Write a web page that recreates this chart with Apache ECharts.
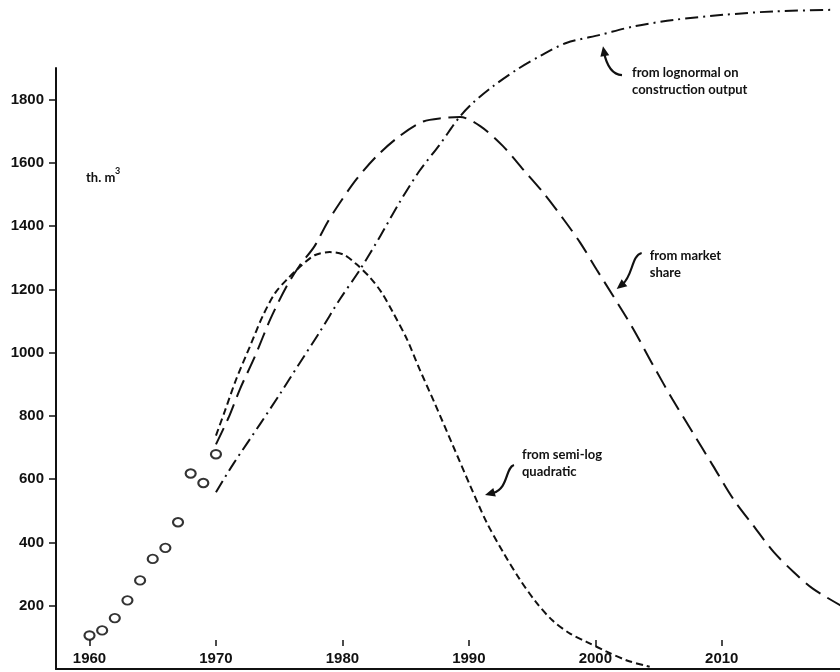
<!DOCTYPE html>
<html><head><meta charset="utf-8">
<script src="https://cdn.jsdelivr.net/npm/echarts/dist/echarts.min.js"></script>
<style>html,body{margin:0;padding:0;background:#fff}#c{width:840px;height:672px}</style>
</head><body><div id="c"></div>
<script>
// ---- data ----
const xTicks = [1960, 1970, 1980, 1990, 2000, 2010];
const yTicks = [200, 400, 600, 800, 1000, 1200, 1400, 1600, 1800];

const observedYears  = [1960, 1961, 1962, 1963, 1964, 1965, 1966, 1967, 1968, 1969, 1970];
const observedValues = [106, 122, 161, 217, 280, 348, 383, 464, 618, 588, 679];

const semiLogYears  = [1970.0, 1970.7, 1971.6, 1972.7, 1973.7, 1974.7, 1975.7, 1976.6, 1977.8, 1979.0, 1980.1, 1981.1, 1982.2, 1983.1, 1984.0, 1985.1, 1986.1, 1987.3, 1988.7, 1990.1, 1991.4, 1992.7, 1994.0, 1995.3, 1996.6, 1998.0, 1999.3, 2000.9, 2002.5, 2004.3];
const semiLogValues = [738, 815, 916, 1021, 1116, 1190, 1235, 1270, 1308, 1318, 1310, 1280, 1237, 1190, 1127, 1043, 948, 840, 710, 580, 464, 370, 285, 212, 154, 112, 86, 55, 27, 7];

const marketYears  = [1970.0, 1971.0, 1971.9, 1973.1, 1974.3, 1975.6, 1976.6, 1977.8, 1978.8, 1979.8, 1981.1, 1982.7, 1984.5, 1986.4, 1988.0, 1989.3, 1990.9, 1992.7, 1994.3, 1995.9, 1997.5, 1998.8, 2000.1, 2001.4, 2003.0, 2004.6, 2006.1, 2007.7, 2009.3, 2010.9, 2012.5, 2014.1, 2015.7, 2017.2, 2019.4];
const marketValues = [710, 795, 885, 990, 1106, 1211, 1274, 1337, 1411, 1474, 1548, 1621, 1684, 1731, 1742, 1745, 1716, 1653, 1579, 1505, 1421, 1348, 1263, 1180, 1075, 958, 853, 748, 643, 538, 453, 370, 306, 254, 201];

const lognormalYears  = [1970.0, 1971.4, 1973.5, 1975.1, 1976.6, 1978.2, 1979.8, 1981.4, 1983.0, 1984.5, 1986.1, 1987.7, 1989.2, 1990.3, 1991.9, 1993.8, 1995.6, 1997.7, 2000.4, 2003.0, 2006.2, 2010.1, 2014.1, 2018.8];
const lognormalValues = [559, 650, 775, 872, 966, 1065, 1169, 1263, 1369, 1474, 1575, 1658, 1742, 1789, 1842, 1895, 1937, 1979, 2005, 2031, 2052, 2068, 2079, 2084];

const annotationTexts = ['from lognormal on\nconstruction output', 'from market\nshare', 'from semi-log\nquadratic'];
const annotationYears = [2002.9, 2004.3, 1994.2];
const annotationValues = [1912, 1334, 705];
const unitLabel = 'th. m';
const unitSup = '3';

// ---- chart ----
const zip = (a, b) => a.map((v, i) => [v, b[i]]);
const ink = '#111';
const tickFont = { fontFamily: 'Liberation Sans', fontSize: 15, fontWeight: 'bold', color: ink };
const noteFont = { fontFamily: 'Lato', fontSize: 13, fontWeight: 'bold', color: ink, lineHeight: 17 };

const chart = echarts.init(document.getElementById('c'), null, { renderer: 'canvas' });
const xMin = 1957.35, xMax = 2019.35;
chart.setOption({
  animation: false,
  backgroundColor: '#fff',
  grid: { left: 56, right: 0, top: 68, bottom: 3, containLabel: false },
  xAxis: [
    { type: 'value', min: xMin, max: xMax,
      axisLine: { show: true, lineStyle: { color: ink, width: 2 } },
      axisTick: { show: false }, axisLabel: { show: false }, splitLine: { show: false } },
    { type: 'value', min: xMin, max: xMax, position: 'bottom', offset: -23,
      axisLine: { show: false },
      axisTick: { show: true, inside: true, length: 6, lineStyle: { color: ink, width: 1.5 }, customValues: xTicks },
      axisLabel: Object.assign({ show: true, margin: 5, customValues: xTicks, formatter: v => String(v) }, tickFont),
      splitLine: { show: false } }
  ],
  yAxis: {
    type: 'value', min: 0, max: 1900,
    axisLine: { show: true, lineStyle: { color: ink, width: 2 } },
    axisTick: { show: true, length: 7, lineStyle: { color: ink, width: 1.5 }, customValues: yTicks },
    axisLabel: Object.assign({ show: true, margin: 12, customValues: yTicks, formatter: v => String(v) }, tickFont),
    splitLine: { show: false }
  },
  series: [
    { type: 'scatter', data: zip(observedYears, observedValues), symbol: 'circle', symbolSize: [10, 8.5],
      itemStyle: { color: '#fff', borderColor: '#000', borderWidth: 2 }, z: 5 },
    { type: 'line', data: zip(semiLogYears, semiLogValues), smooth: 0.3, showSymbol: false, clip: false,
      lineStyle: { color: ink, width: 2, type: [7, 4] } },
    { type: 'line', data: zip(marketYears, marketValues), smooth: 0.3, showSymbol: false, clip: true,
      lineStyle: { color: ink, width: 2, type: [18, 8] } },
    { type: 'line', data: zip(lognormalYears, lognormalValues), smooth: 0.3, showSymbol: false, clip: false,
      lineStyle: { color: ink, width: 2, type: [13, 5, 2, 5] } }
  ]
});

// annotations with curly arrows, positioned from data-space anchors
const arrowShapes = [
  // offsets relative to text top-left: start, cp1, cp2, end, tip
  [[-10, 11], [-22, 10], [-26, -2], [-28, -12], [-29, -18]],
  [[-8, 6], [-18, 8], [-17, 29], [-27, 37], [-33, 42]],
  [[-8, 19], [-17, 22], [-13, 42], [-29, 47], [-37, 49]]
];
const graphics = [];
graphics.push({ type: 'text', left: 86, top: 171, style: { text: unitLabel, fontFamily: 'Lato', fontSize: 13, fontWeight: 'bold', fill: ink } });
graphics.push({ type: 'text', left: 115, top: 167, style: { text: unitSup, fontFamily: 'Lato', fontSize: 9, fontWeight: 'bold', fill: ink } });
annotationTexts.forEach((t, i) => {
  const p = chart.convertToPixel({ gridIndex: 0 }, [annotationYears[i], annotationValues[i]]);
  graphics.push({ type: 'text', x: p[0], y: p[1], style: { text: t, fontFamily: noteFont.fontFamily, fontSize: noteFont.fontSize, fontWeight: noteFont.fontWeight, lineHeight: noteFont.lineHeight, fill: ink } });
  const s = arrowShapes[i].map(o => [p[0] + o[0], p[1] + o[1]]);
  graphics.push({ type: 'bezierCurve', shape: { x1: s[0][0], y1: s[0][1], cpx1: s[1][0], cpy1: s[1][1], cpx2: s[2][0], cpy2: s[2][1], x2: s[3][0], y2: s[3][1] },
    style: { stroke: ink, lineWidth: 2.2, fill: null } });
  const dx = s[4][0] - s[2][0], dy = s[4][1] - s[2][1];
  const L = Math.hypot(dx, dy), ux = dx / L, uy = dy / L;
  const tip = s[4], back = [tip[0] - ux * 10, tip[1] - uy * 10];
  graphics.push({ type: 'polygon', shape: { points: [tip, [back[0] - uy * 4.5, back[1] + ux * 4.5], [back[0] + uy * 4.5, back[1] - ux * 4.5]] },
    style: { fill: ink } });
});
chart.setOption({ graphic: graphics });
</script>
</body></html>
